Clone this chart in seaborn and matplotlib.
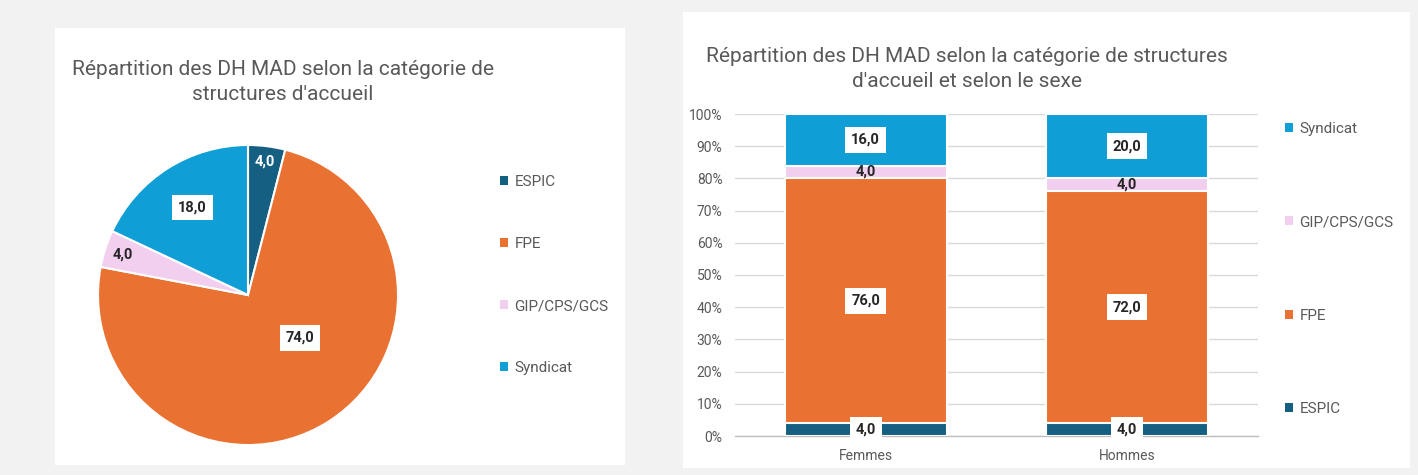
import numpy as np
import pandas as pd
import matplotlib
matplotlib.use('Agg')
import matplotlib.pyplot as plt
from matplotlib.patches import Rectangle, Patch
import seaborn as sns

# data
categories = ['ESPIC', 'FPE', 'GIP/CPS/GCS', 'Syndicat']
pie_values = [4.0, 74.0, 4.0, 18.0]
sexes = ['Femmes', 'Hommes']
femmes = [4.0, 76.0, 4.0, 16.0]
hommes = [4.0, 72.0, 4.0, 20.0]
colors = ['#156082', '#E97132', '#F2CEEF', '#0F9ED5']

title_left = "Répartition des DH MAD selon la catégorie de\nstructures d'accueil"
title_right = "Répartition des DH MAD selon la catégorie de structures\nd'accueil et selon le sexe"

sns.set_style('white')
plt.rcParams['font.family'] = ['Roboto', 'DejaVu Sans']
grey = '#595959'


def fmt(v):
    return f"{v:.1f}".replace('.', ',')


W, H = 1418, 475
fig = plt.figure(figsize=(W / 100, H / 100), dpi=100, facecolor='#f2f2f2')


def fx(px):
    return px / W


def fy(py):
    return 1 - py / H


# white panels
fig.patches.append(Rectangle((fx(55), fy(465)), fx(570), 437 / H, transform=fig.transFigure,
                             facecolor='white', edgecolor='none', zorder=-1))
fig.patches.append(Rectangle((fx(683), fy(468)), fx(727), 456 / H, transform=fig.transFigure,
                             facecolor='white', edgecolor='none', zorder=-1))

# ---- pie ----
ax1 = fig.add_axes([fx(98), fy(445), fx(300), 300 / H])
ax1.pie(pie_values, colors=colors, startangle=90, counterclock=False,
        wedgeprops={'edgecolor': 'white', 'linewidth': 1.5})
ax1.set_xlim(-1, 1)
ax1.set_ylim(-1, 1)
ax1.set_aspect('equal')
ax1.axis('off')

# label radius and small angle shift (best-fit placement like the original)
label_r = [0.9, 0.45, 0.88, 0.69]
label_shift = [0, 18, 0, 0]
cum = np.cumsum([0] + pie_values[:-1])
for i, (v, c0) in enumerate(zip(pie_values, cum)):
    ang = np.deg2rad(90 - 360 * (c0 + v / 2) / 100 + label_shift[i])
    x, y = label_r[i] * np.cos(ang), label_r[i] * np.sin(ang)
    if i == 0:
        ax1.text(x, y, fmt(v), ha='center', va='center', fontsize=10.5,
                 fontweight='bold', color='white')
    elif i == 2:
        ax1.text(x, y, fmt(v), ha='center', va='center', fontsize=10.5,
                 fontweight='bold', color='#262626')
    else:
        ax1.text(x, y, fmt(v), ha='center', va='center', fontsize=10.5,
                 fontweight='bold', color='#262626',
                 bbox=dict(boxstyle='square,pad=0.4', facecolor='white', edgecolor='none'))

fig.text(fx(283), fy(82), title_left, ha='center', va='center', fontsize=15,
         color=grey, linespacing=1.45)

handles = [Patch(facecolor=c, edgecolor='none') for c in colors]
fig.legend(handles, categories, loc='center left', bbox_to_anchor=(fx(486), fy(275)),
           frameon=False, fontsize=11, labelcolor=grey, labelspacing=3.15,
           handlelength=0.55, handleheight=0.55, handletextpad=0.4)

# ---- stacked bars ----
df = pd.DataFrame({
    'sexe': np.repeat(sexes, len(categories)),
    'categorie': categories * len(sexes),
    'valeur': femmes + hommes,
})
df['cum'] = df.groupby('sexe')['valeur'].cumsum()
df['mid'] = df['cum'] - df['valeur'] / 2

ax2 = fig.add_axes([fx(735), fy(436), fx(523), 322 / H])
# draw from top layer down so each shorter bar covers the one behind
for cat, col in reversed(list(zip(categories, colors))):
    sub = df[df['categorie'] == cat]
    sns.barplot(data=sub, x='sexe', y='cum', order=sexes, color=col, saturation=1,
                width=0.62, edgecolor='white', linewidth=1.5, ax=ax2, zorder=3)

ax2.set_xlim(-0.5, 1.5)
ax2.set_ylim(0, 100)
ax2.set_yticks(range(0, 101, 10))
ax2.set_yticklabels([f"{t}%" for t in range(0, 101, 10)])
ax2.yaxis.grid(True, color='#d9d9d9', linewidth=1, zorder=0)
ax2.set_axisbelow(True)
ax2.set_xlabel('')
ax2.set_ylabel('')
for s in ['top', 'right', 'left']:
    ax2.spines[s].set_visible(False)
ax2.spines['bottom'].set_color('#bfbfbf')
ax2.spines['bottom'].set_linewidth(1)
ax2.tick_params(axis='y', length=0, pad=9, labelsize=10, labelcolor=grey)
ax2.tick_params(axis='x', which='major', length=0, pad=9, labelsize=10, labelcolor=grey)
ax2.set_xticks([-0.5, 0.5, 1.5], minor=True)
ax2.tick_params(axis='x', which='minor', length=5, color='#bfbfbf', width=1)

for _, row in df.iterrows():
    xi = sexes.index(row['sexe'])
    ci = categories.index(row['categorie'])
    kw = dict(ha='center', va='center', fontsize=10.5, fontweight='bold',
              color='#262626', zorder=5)
    if ci == 2:
        ax2.text(xi, row['mid'], fmt(row['valeur']), **kw)
    else:
        ax2.text(xi, row['mid'], fmt(row['valeur']),
                 bbox=dict(boxstyle='square,pad=0.4', facecolor='white', edgecolor='none'),
                 **kw)

fig.text(fx(967), fy(69), title_right, ha='center', va='center', fontsize=15,
         color=grey, linespacing=1.45)

fig.legend(handles[::-1], categories[::-1], loc='center left',
           bbox_to_anchor=(fx(1271), fy(269)), frameon=False, fontsize=11,
           labelcolor=grey, labelspacing=5.2, handlelength=0.55, handleheight=0.55,
           handletextpad=0.4)

fig.savefig('out.png', dpi=100, facecolor=fig.get_facecolor())
